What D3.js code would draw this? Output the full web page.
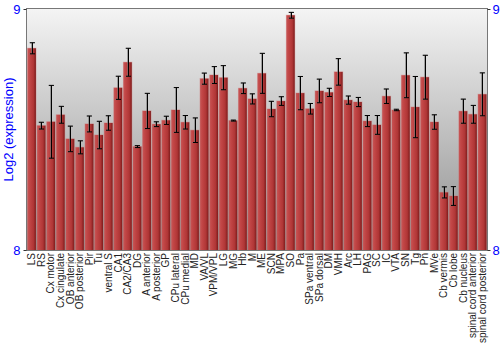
<!DOCTYPE html>
<html><head><meta charset="utf-8">
<script src="https://cdn.jsdelivr.net/npm/d3@7"></script>
<style>body{margin:0;background:#fff}svg{display:block}</style>
</head><body><svg id="c" width="500" height="350"></svg>
<script>
const categories = ["LS","RS","Cx motor","Cx cingulate","OB anterior","OB posterior","Pir","Tu","ventral S","CA1","CA2/CA3","DG","A anterior","A posterior","GP","CPu lateral","CPu medial","MD","VA/VL","VPM/VPL","LG","MG","Hb","M","ME","SCN","MPA","SO","Pa","SPa ventral","SPa dorsal","DM","VMH","Arc","LH","PAG","SC","IC","VTA","SN","Tg","Pn","MVe","Cb vermis","Cb lobe","Cb nucleus","spinal cord anterior","spinal cord posterior"];
const values = [8.837,8.516,8.532,8.561,8.461,8.426,8.523,8.477,8.527,8.673,8.779,8.429,8.577,8.522,8.538,8.581,8.530,8.497,8.711,8.726,8.715,8.537,8.671,8.627,8.733,8.585,8.618,8.974,8.651,8.586,8.660,8.654,8.739,8.622,8.614,8.535,8.519,8.638,8.581,8.725,8.593,8.717,8.531,8.239,8.224,8.576,8.563,8.646];
const errors = [0.023,0.014,0.151,0.035,0.053,0.027,0.033,0.057,0.030,0.048,0.058,0.004,0.073,0.010,0.017,0.093,0.028,0.051,0.023,0.035,0.050,0.002,0.022,0.021,0.083,0.032,0.018,0.012,0.069,0.022,0.049,0.017,0.055,0.017,0.019,0.023,0.039,0.030,0.003,0.093,0.127,0.091,0.030,0.023,0.039,0.050,0.037,0.089];
const yTicks = [8, 9];
const yLabel = "Log2 (expression)";

const svg = d3.select("#c");
const L = 27, R = 487, T = 9, B = 250;
const x = d3.scaleBand().domain(categories).range([L, R]).paddingInner(0.13).paddingOuter(0.06);
const y = d3.scaleLinear().domain([8, 9]).range([B, T]);

const defs = svg.append("defs");
const bg = defs.append("linearGradient").attr("id","bg").attr("x1",0).attr("y1",0).attr("x2",0).attr("y2",1);
bg.append("stop").attr("offset","0%").attr("stop-color","#f4f4f4");
bg.append("stop").attr("offset","100%").attr("stop-color","#8e8e8e");
const bar = defs.append("linearGradient").attr("id","bar").attr("x1",0).attr("y1",0).attr("x2",1).attr("y2",0);
bar.append("stop").attr("offset","0%").attr("stop-color","#c65656");
bar.append("stop").attr("offset","25%").attr("stop-color","#c24646");
bar.append("stop").attr("offset","70%").attr("stop-color","#b03636");
bar.append("stop").attr("offset","100%").attr("stop-color","#7e1c1c");

svg.append("rect").attr("x",L).attr("y",T).attr("width",R-L).attr("height",B-T).attr("fill","url(#bg)");

const g = svg.append("g");
g.selectAll("rect.shadow").data(categories).join("rect")
  .attr("x", d => x(d)-0.5).attr("y", (d,i) => y(values[i])-0.5)
  .attr("width", x.bandwidth()+1).attr("height", (d,i) => B - y(values[i])+0.5)
  .attr("fill", "#d07070").attr("opacity",0.5);
g.selectAll("rect.bar").data(categories).join("rect")
  .attr("x", d => x(d)).attr("y", (d,i) => y(values[i]))
  .attr("width", x.bandwidth()).attr("height", (d,i) => B - y(values[i]))
  .attr("fill", "url(#bar)");

// error bars
const eg = svg.append("g");
categories.forEach((c,i) => {
  const cx = Math.round(x(c) + x.bandwidth()/2) + 0.5;
  const y1 = y(values[i] + errors[i]), y2 = y(values[i] - errors[i]);
  [["#777",1],["#000",0]].forEach(([col,off]) => {
    const gg = eg.append("g").attr("transform",`translate(${-off},0)`).attr("stroke",col).attr("stroke-width",1).attr("opacity", off? 0.6:1);
    gg.append("line").attr("x1",cx).attr("x2",cx).attr("y1",y1).attr("y2",y2);
    gg.append("line").attr("x1",cx-2.5).attr("x2",cx+2.5).attr("y1",y1).attr("y2",y1);
    gg.append("line").attr("x1",cx-2.5).attr("x2",cx+2.5).attr("y1",y2).attr("y2",y2);
  });
});

// frame
svg.append("rect").attr("x",L-0.5).attr("y",T-0.5).attr("width",R-L+1).attr("height",B-T+1)
  .attr("fill","none").attr("stroke","#777").attr("stroke-width",1);

// axes
const la = svg.append("g").attr("transform",`translate(${L-0.5},0)`)
  .call(d3.axisLeft(y).tickValues(yTicks).tickFormat(d3.format("d")).tickSize(3).tickPadding(3));
const ra = svg.append("g").attr("transform",`translate(${R+0.5},0)`)
  .call(d3.axisRight(y).tickValues(yTicks).tickFormat(d3.format("d")).tickSize(3).tickPadding(2));
[la,ra].forEach(a => {
  a.select(".domain").remove();
  a.selectAll("line").attr("stroke","#333");
  a.selectAll("text").attr("fill","#0000ff").style("font-family","Liberation Sans, Arial, sans-serif").style("font-size","13px");
});

svg.append("text").attr("transform",`translate(13,${(T+B)/2}) rotate(-90)`)
  .attr("text-anchor","middle").attr("fill","#0000ff")
  .style("font-family","Liberation Sans, Arial, sans-serif").style("font-size","13px").text(yLabel);

// x labels
svg.append("g").selectAll("text").data(categories).join("text")
  .attr("transform", d => `translate(${x(d)+x.bandwidth()/2+3.5},${B+3}) rotate(-90)`)
  .attr("text-anchor","end").attr("fill","#222")
  .style("font-family","Liberation Sans, Arial, sans-serif").style("font-size","10px")
  .text(d => d);
</script></body></html>
